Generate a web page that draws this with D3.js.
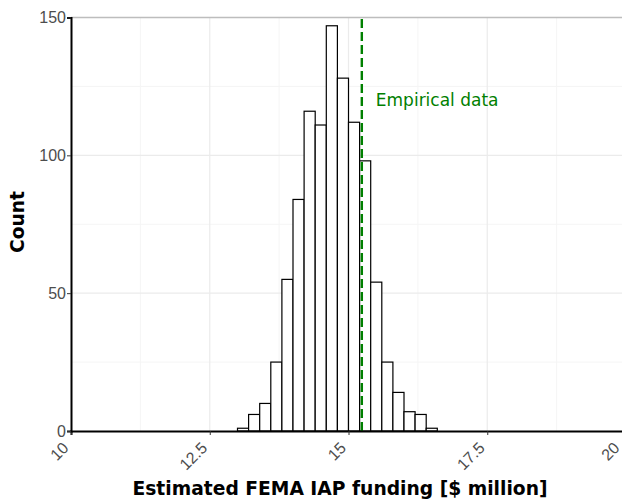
<!DOCTYPE html>
<html><head><meta charset="utf-8">
<script src="https://cdn.jsdelivr.net/npm/d3@7"></script>
<style>body{margin:0;background:#fff}svg{display:block}</style>
</head><body>
<script>
const binStarts = [13.0,13.2,13.4,13.6,13.8,14.0,14.2,14.4,14.6,14.8,15.0,15.2,15.4,15.6,15.8,16.0,16.2,16.4];
const counts    = [1,6,10,25,55,84,116,111,147,128,112,98,54,25,14,7,6,1];
const binWidth = 0.2;
const empirical = 15.24;
const xTicks = [10,12.5,15,17.5,20];
const xMinor = [11.25,13.75,16.25,18.75];
const yTicks = [0,50,100,150];
const yMinor = [25,75,125];

const W=622,H=502;
const svg=d3.select("body").append("svg").attr("width",W).attr("height",H)
  .style("font-family","'DejaVu Sans', sans-serif");
const x=d3.scaleLinear().domain([10,20]).range([71,626]);
const y=d3.scaleLinear().domain([0,150]).range([431,17.5]);

const g=svg.append("g");
// minor grid
g.selectAll(".xm").data(xMinor).join("line").attr("x1",d=>x(d)).attr("x2",d=>x(d))
 .attr("y1",y(0)).attr("y2",y(150)).attr("stroke","#f5f5f5").attr("stroke-width",1);
g.selectAll(".ym").data(yMinor).join("line").attr("y1",d=>y(d)).attr("y2",d=>y(d))
 .attr("x1",x(10)).attr("x2",W).attr("stroke","#f5f5f5").attr("stroke-width",1);
// major grid
g.selectAll(".xM").data(xTicks.slice(1,-1)).join("line").attr("x1",d=>x(d)).attr("x2",d=>x(d))
 .attr("y1",y(0)).attr("y2",y(150)).attr("stroke","#ebebeb").attr("stroke-width",1.2);
g.selectAll(".yM").data([50,100]).join("line").attr("y1",d=>y(d)).attr("y2",d=>y(d))
 .attr("x1",x(10)).attr("x2",W).attr("stroke","#ebebeb").attr("stroke-width",1.2);
g.append("line").attr("x1",x(10)).attr("x2",W).attr("y1",y(150)).attr("y2",y(150))
 .attr("stroke","#bdbdbd").attr("stroke-width",1.3);

// bars
g.selectAll(".bar").data(binStarts).join("rect")
 .attr("x",d=>x(d)).attr("width",d=>x(d+binWidth)-x(d))
 .attr("y",(d,i)=>y(counts[i])).attr("height",(d,i)=>y(0)-y(counts[i]))
 .attr("fill","#fff").attr("stroke","#000").attr("stroke-width",1.2);

// empirical line
g.append("line").attr("x1",x(empirical)).attr("x2",x(empirical)).attr("y1",y(0)).attr("y2",y(150))
 .attr("stroke","#008000").attr("stroke-width",2.4).attr("stroke-dasharray","9,4");
g.append("text").attr("x",x(empirical)+14).attr("y",106).attr("fill","#008000")
 .attr("font-size",17).text("Empirical data");

// axes
const xa=svg.append("g").attr("transform",`translate(0,${y(0)})`)
 .call(d3.axisBottom(x).tickValues(xTicks).tickSize(4).tickFormat(d=>d));
xa.select(".domain").attr("stroke","#000").attr("stroke-width",2);
xa.selectAll(".tick line").attr("stroke","#333");
xa.selectAll(".tick text").attr("fill","#4d4d4d").attr("font-size",16)
 .attr("text-anchor","end").attr("dy",0).attr("y",0)
 .attr("transform",d=>d===20?"translate(-6,18) rotate(-45)":"translate(-2,18) rotate(-45)");
const ya=svg.append("g").attr("transform",`translate(${x(10)},0)`)
 .call(d3.axisLeft(y).tickValues(yTicks).tickSize(4));
ya.select(".domain").attr("stroke","#000").attr("stroke-width",2);
ya.selectAll(".tick line").attr("stroke","#333");
ya.selectAll(".tick text").attr("fill","#4d4d4d").attr("font-size",16).attr("x",-5);

svg.append("text").attr("x",340).attr("y",495).attr("text-anchor","middle")
 .attr("font-weight","bold").attr("font-size",18.7).text("Estimated FEMA IAP funding [$ million]");
svg.append("text").attr("transform",`translate(24,222) rotate(-90)`).attr("text-anchor","middle")
 .attr("font-weight","bold").attr("font-size",18.7).text("Count");
</script>
</body></html>
